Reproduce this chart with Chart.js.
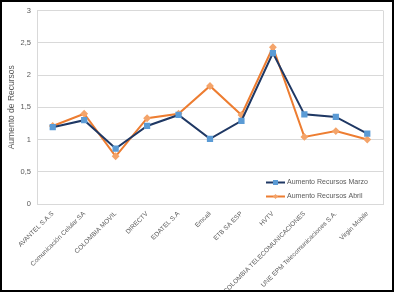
<!DOCTYPE html>
<html>
<head>
<meta charset="utf-8">
<script src="https://cdn.jsdelivr.net/npm/chart.js@4/dist/chart.umd.min.js"></script>
<style>
html,body{margin:0;padding:0;background:#fff;}
#wrap{position:relative;width:394px;height:292px;}
</style>
</head>
<body>
<div id="wrap"><canvas id="c" width="394" height="292"></canvas></div>
<script>
const categories = ["AVANTEL S.A.S","Comunicación Celular SA","COLOMBIA MOVIL","DIRECTV","EDATEL S.A","Emcali","ETB SA ESP","HVTV","COLOMBIA TELECOMUNICACIONES","UNE EPM Telecomunicaciones S.A.","Virgin Mobile"];
const seriesNames = ["Aumento Recursos Marzo","Aumento Recursos Abril"];
const marzo = [1.19,1.30,0.86,1.21,1.38,1.01,1.29,2.34,1.39,1.35,1.09];
const abril = [1.21,1.40,0.74,1.33,1.40,1.83,1.38,2.43,1.04,1.13,1.00];
const yTicks = [0,0.5,1,1.5,2,2.5,3];
const yTitle = "Aumento de Recursos";

const FONT = "'Liberation Sans', Arial, sans-serif";
const TXT = '#595959';

const frame = {
  id:'frame',
  beforeDraw(chart){
    const ctx = chart.ctx;
    ctx.save();
    ctx.fillStyle='#fff';
    ctx.fillRect(0,0,chart.width,chart.height);
    ctx.restore();
  },
  afterDraw(chart){
    const ctx = chart.ctx, a = chart.chartArea;
    ctx.save();
    ctx.strokeStyle='#d9d9d9'; ctx.lineWidth=1;
    ctx.beginPath();
    ctx.moveTo(Math.round(a.right)+0.5,a.top); ctx.lineTo(Math.round(a.right)+0.5,a.bottom);
    ctx.stroke();
    const items = chart.data.datasets;
    const lx = 266, ly = [182.5, 196.5];
    items.forEach((ds,i)=>{
      ctx.strokeStyle = ds.borderColor; ctx.lineWidth=2;
      ctx.beginPath(); ctx.moveTo(lx, ly[i]); ctx.lineTo(lx+19, ly[i]); ctx.stroke();
      ctx.fillStyle = ds.pointBackgroundColor;
      if(i===0){ ctx.fillRect(lx+7, ly[i]-2.5, 5, 5); }
      else { ctx.beginPath(); ctx.moveTo(lx+9.5,ly[i]-2.5); ctx.lineTo(lx+12,ly[i]); ctx.lineTo(lx+9.5,ly[i]+2.5); ctx.lineTo(lx+7,ly[i]); ctx.closePath(); ctx.fill(); }
      ctx.fillStyle = TXT; ctx.font = "7px "+FONT; ctx.textBaseline='middle'; ctx.textAlign='left';
      ctx.fillText(ds.label, lx+21, ly[i]);
    });
    ctx.strokeStyle='#000'; ctx.lineWidth=2;
    ctx.strokeRect(1,1,chart.width-2,chart.height-2);
    ctx.restore();
  }
};

new Chart(document.getElementById('c'), {
  type:'line',
  data:{
    labels: categories,
    datasets:[
      {label:seriesNames[0], data:marzo, borderColor:'#1F3864', backgroundColor:'#5B9BD5', pointBackgroundColor:'#5B9BD5', pointBorderColor:'#5B9BD5', pointStyle:'rect', pointRadius:3, borderWidth:2, tension:0},
      {label:seriesNames[1], data:abril, borderColor:'#ED7D31', backgroundColor:'#F4A46A', pointBackgroundColor:'#F4A46A', pointBorderColor:'#F4A46A', pointStyle:'rectRot', pointRadius:2.5, borderWidth:2, tension:0}
    ]
  },
  options:{
    responsive:false, animation:false,
    layout:{padding:{left:7,right:11,top:9,bottom:0}},
    plugins:{legend:{display:false}, tooltip:{enabled:false}},
    scales:{
      x:{
        offset:true,
        grid:{display:false, drawTicks:false},
        border:{display:true,color:'#d9d9d9'},
        ticks:{color:TXT, font:{size:6.5, family:FONT}, minRotation:45, maxRotation:45, autoSkip:false, padding:6},
        afterFit(s){ s.height = 88; }
      },
      y:{
        min:0, max:3,
        afterBuildTicks(s){ s.ticks = yTicks.map(v=>({value:v})); },
        grid:{color:'#d9d9d9', drawTicks:false},
        border:{display:true,color:'#d9d9d9'},
        ticks:{color:TXT, font:{size:7.5, family:FONT}, padding:6, callback:v=>String(v).replace('.',',')},
        title:{display:true, text:yTitle, color:TXT, font:{size:8.5, family:FONT}, padding:{top:0,bottom:5}},
        afterFit(s){ s.width = 30; }
      }
    }
  },
  plugins:[frame]
});
</script>
</body>
</html>
